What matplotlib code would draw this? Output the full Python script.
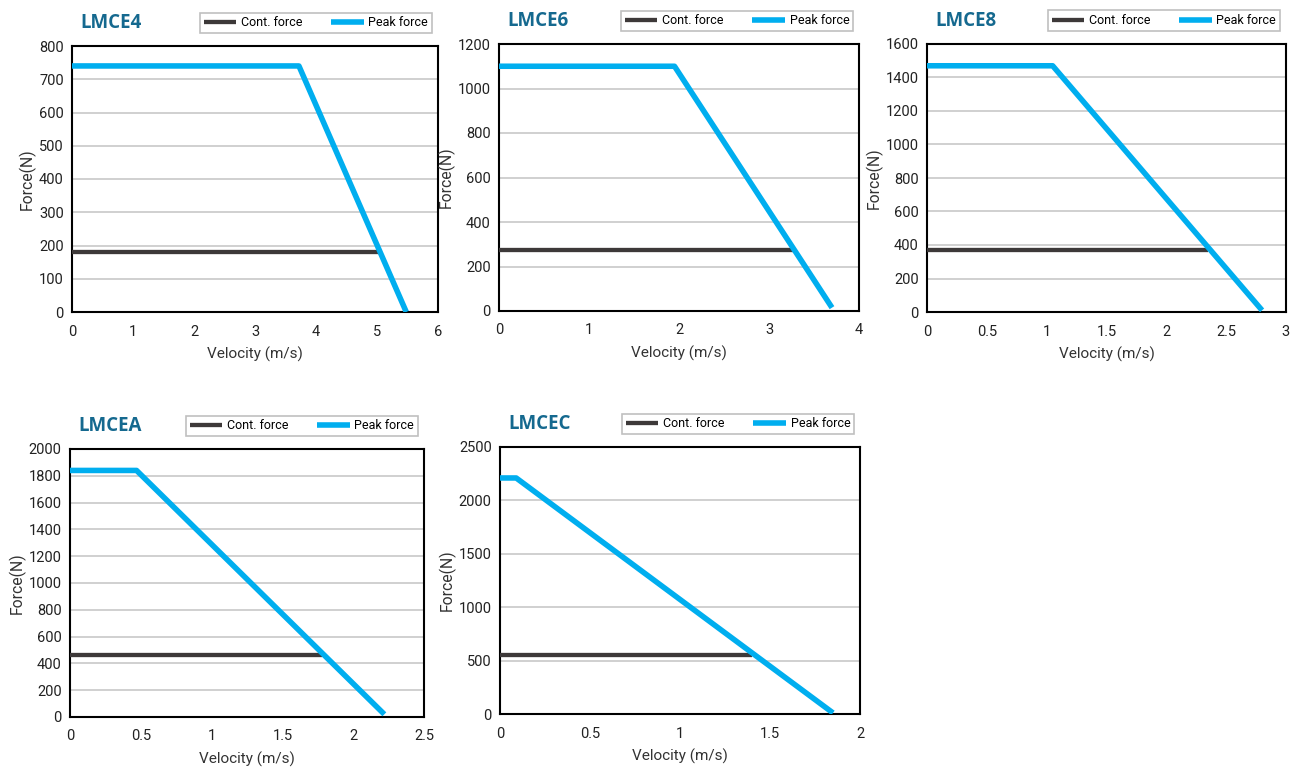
import matplotlib
matplotlib.use("Agg")
import matplotlib.pyplot as plt

W, H = 1290, 769

titles = ["LMCE4", "LMCE6", "LMCE8", "LMCEA", "LMCEC"]
# peak force curves: (velocity, force) knots
peak_v = [[0, 3.72, 5.48], [0, 1.95, 3.70], [0, 1.05, 2.80], [0, 0.47, 2.22], [0, 0.09, 1.85]]
peak_f = [[740, 740, 0], [1100, 1100, 15], [1470, 1470, 10], [1840, 1840, 20], [2210, 2210, 10]]
cont_v = [[0, 5.05], [0, 3.27], [0, 2.35], [0, 1.78], [0, 1.40]]
cont_f = [[180, 180], [275, 275], [370, 370], [460, 460], [550, 550]]
xlims = [6, 4, 3, 2.5, 2]
ylims = [800, 1200, 1600, 2000, 2500]
xticks = [[0, 1, 2, 3, 4, 5, 6], [0, 1, 2, 3, 4], [0, 0.5, 1, 1.5, 2, 2.5, 3],
          [0, 0.5, 1, 1.5, 2, 2.5], [0, 0.5, 1, 1.5, 2]]
xticklabels = [["0", "1", "2", "3", "4", "5", "6"], ["0", "1", "2", "3", "4"],
               ["0", "0.5", "1", "1.5", "2", "2.5", "3"],
               ["0", "0.5", "1", "1.5", "2", "2.5"], ["0", "0.5", "1", "1.5", "2"]]
yticks = [list(range(0, 801, 100)), list(range(0, 1201, 200)), list(range(0, 1601, 200)),
          list(range(0, 2001, 200)), list(range(0, 2501, 500))]

# axes boxes in pixels: left, right, top, bottom
boxes = [(72, 438, 46, 312), (499, 859, 44, 311), (927, 1286, 44, 312),
         (70, 424, 449, 717), (500, 860, 447, 714)]

PEAK = "#00aeef"
CONT = "#3d3939"
TITLE = "#15698f"

plt.rcParams['font.family'] = ['Roboto', 'DejaVu Sans']
fig = plt.figure(figsize=(W / 100, H / 100), dpi=100)

for i in range(5):
    l, r, t, b = boxes[i]
    aw = r - l
    ah = b - t
    ax = fig.add_axes([l / W, 1 - b / H, aw / W, ah / H])
    ax.set_xlim(0, xlims[i])
    ax.set_ylim(0, ylims[i])
    ax.set_yticks(yticks[i])
    ax.set_xticks(xticks[i])
    ax.set_xticklabels(xticklabels[i])
    ax.grid(axis='y', color="#c4c4c4", lw=1.1)
    ax.set_axisbelow(True)
    for s in ax.spines.values():
        s.set_linewidth(1.5)
        s.set_color("black")
    ax.tick_params(axis='y', length=0, labelsize=10.5, pad=6, colors="#222222")
    ax.tick_params(axis='x', length=0, labelsize=10.5, pad=9, colors="#222222")
    ax.plot(cont_v[i], cont_f[i], color=CONT, lw=3.1, solid_capstyle='butt', label="Cont. force", zorder=3)
    ax.plot(peak_v[i], peak_f[i], color=PEAK, lw=4.0, solid_capstyle='butt',
            solid_joinstyle='round', label="Peak force", zorder=4)
    ax.set_ylabel("Force(N)", fontsize=11.3, color="#333333", labelpad=2)
    ax.set_xlabel("Velocity (m/s)", fontsize=11, color="#333333", labelpad=6)
    ax.text(8 / aw, 1 + 23 / ah, titles[i], transform=ax.transAxes, fontsize=13.5, fontweight='bold',
            color=TITLE, family=['Open Sans', 'DejaVu Sans'], va='center', ha='left')
    leg = ax.legend(loc='lower left', ncol=2, mode='expand',
                    bbox_to_anchor=((r - 238 - l) / aw, 1 + 13 / ah, 232 / aw, 25 / ah),
                    fontsize=9, frameon=True, fancybox=False, handlelength=2.6,
                    borderaxespad=0, borderpad=0.3, handletextpad=0.4)
    leg.get_frame().set_edgecolor("#b0b0b0")
    leg.get_frame().set_linewidth(1.2)

fig.savefig("out.png", dpi=100)
